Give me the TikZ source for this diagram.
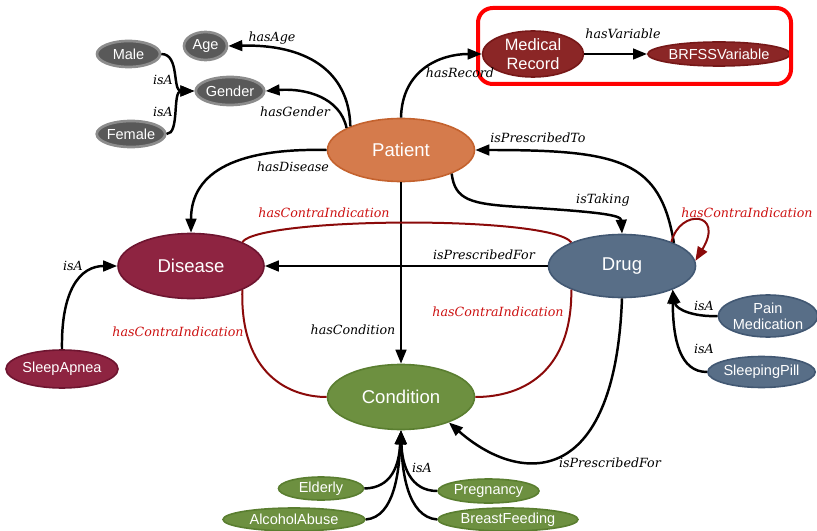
\documentclass[tikz,border=0pt]{standalone}
\usepackage{fontspec}
\setsansfont{Liberation Sans}
\newfontfamily\edgefont{DejaVu Serif}
\usetikzlibrary{shapes.geometric,arrows.meta}

% class colours
\definecolor{patfill}{HTML}{D57B4C}
\definecolor{patline}{HTML}{C4622E}
\definecolor{recfill}{HTML}{8B2626}
\definecolor{recline}{HTML}{761818}
\definecolor{disfill}{HTML}{8E2441}
\definecolor{disline}{HTML}{6E1530}
\definecolor{drugfill}{HTML}{586E87}
\definecolor{drugline}{HTML}{425873}
\definecolor{condfill}{HTML}{6D9040}
\definecolor{condline}{HTML}{5A7E30}
\definecolor{grayfill}{HTML}{595959}
\definecolor{grayline}{HTML}{8C8C8C}
\definecolor{contraline}{HTML}{8B0A0A}
\definecolor{contratext}{HTML}{CC1111}
\definecolor{framered}{HTML}{FF0000}

% one unit of the drawing grid
\newcommand\unitpx{0.75pt}

\tikzset{
  cls/.style={ellipse, draw, line width=1.2pt, inner sep=0pt, text=white,
    font=\sffamily\fontsize{13.9}{16}\selectfont},
  sub/.style={cls, font=\sffamily\fontsize{10.9}{12}\selectfont},
  graycls/.style={sub, fill=grayfill, draw=grayline, line width=2pt},
  patcls/.style={cls, fill=patfill, draw=patline},
  reccls/.style={cls, fill=recfill, draw=recline},
  discls/.style={cls, fill=disfill, draw=disline},
  drugcls/.style={cls, fill=drugfill, draw=drugline},
  condcls/.style={cls, fill=condfill, draw=condline},
  tip/.style={-{Triangle[length=10.5pt,width=8pt]}},
  rel/.style={line width=1.85pt, tip},
  contra/.style={line width=1.5pt, draw=contraline},
  lbl/.style={font=\edgefont\itshape\fontsize{9.5}{11}\selectfont, inner sep=0pt, text=black},
  rlbl/.style={lbl, text=contratext},
}

\begin{document}
\begin{tikzpicture}[x=0.75pt,y=-0.75pt]
\useasboundingbox (0,0) rectangle (817,531);

% ---------- classes ----------
\node[patcls, minimum width=147*\unitpx, minimum height=63*\unitpx] (pat) at (401,150) {Patient};
\node[discls, minimum width=146*\unitpx, minimum height=65*\unitpx] (dis) at (191,266) {Disease};
\node[drugcls, minimum width=147*\unitpx, minimum height=63*\unitpx] (drug) at (622,266) {Drug};
\node[condcls, minimum width=147*\unitpx, minimum height=65*\unitpx] (cond) at (401,397) {Condition};

\node[graycls, minimum width=43*\unitpx, minimum height=28*\unitpx] (age) at (205.5,46) {Age};
\node[graycls, minimum width=65*\unitpx, minimum height=28*\unitpx] (gen) at (230,91) {Gender};
\node[graycls, minimum width=63*\unitpx, minimum height=26*\unitpx] (male) at (128.5,54) {Male};
\node[graycls, minimum width=67*\unitpx, minimum height=26*\unitpx] (fem) at (131,134) {Female};

\node[reccls, minimum width=101*\unitpx, minimum height=46*\unitpx, align=center,
      font=\sffamily\fontsize{12.3}{14}\selectfont] (mr) at (533,54) {Medical\\Record};
\node[reccls, sub, minimum width=129*\unitpx, minimum height=24*\unitpx] (br) at (719,54) {BRFSSVariable};
\draw[framered, line width=3pt, rounded corners=11pt] (478,8) rectangle (791,84);

\node[discls, sub, minimum width=110*\unitpx, minimum height=38*\unitpx] (sa) at (62,369) {SleepApnea};
\node[drugcls, sub, minimum width=96*\unitpx, minimum height=42*\unitpx, align=center,
      font=\sffamily\fontsize{10.9}{12.2}\selectfont] (pm) at (768,316) {Pain\\Medication};
\node[drugcls, sub, minimum width=99*\unitpx, minimum height=31*\unitpx] (sp) at (761.5,372) {SleepingPill};

\node[condcls, sub, minimum width=85*\unitpx, minimum height=23*\unitpx] (eld) at (321,488.5) {Elderly};
\node[condcls, sub, minimum width=101*\unitpx, minimum height=24*\unitpx] (preg) at (488.5,491) {Pregnancy};
\node[condcls, sub, minimum width=142*\unitpx, minimum height=23*\unitpx] (alc) at (294,519.5) {AlcoholAbuse};
\node[condcls, sub, minimum width=140*\unitpx, minimum height=23*\unitpx] (bf) at (508,519.5) {BreastFeeding};

% ---------- patient properties ----------
\draw[rel] (pat.155) .. controls (349,70) and (305,44) .. (age.east);
\draw[rel] (pat.158) .. controls (340,97) and (305,88) .. (gen.east);
\draw[rel] (male.east) .. controls (180,54) and (172,91) .. (gen.west);
\draw[rel] (fem.east) .. controls (180,134) and (172,91) .. (gen.west);
\draw[rel] (pat.north) .. controls (402,70) and (440,54) .. (mr.west);
\draw[rel] (mr.east) -- (br.west);
\draw[rel] (pat.west) .. controls (240,148) and (191,170) .. (dis.north);
\draw[rel] (pat.south) -- (cond.north);
\draw[rel] (pat.-25) .. controls (455,200) and (470,204) .. (520,207)
                     .. controls (600,212) and (621,215) .. (drug.north);

% ---------- drug properties ----------
\draw[rel] (drug.24) .. controls (660,160) and (620,150) .. (pat.east);
\draw[rel] (drug.west) -- (dis.east);
\draw[rel] (drug.south) .. controls (615,490) and (520,485) .. (cond.-28);
\draw[contra, tip] (drug.26) .. controls (680,208) and (725,212) .. (drug.4);

% ---------- contra-indications ----------
\draw[contra] (dis.25) .. controls (260,217) and (550,215) .. (drug.155);
\draw[contra] (dis.-25) .. controls (240,375) and (290,397) .. (cond.west);
\draw[contra] (drug.205) .. controls (572,370) and (525,397) .. (cond.east);

% ---------- subclasses ----------
\draw[rel] (sa.north) .. controls (61,290) and (80,266) .. (dis.west);
\draw[rel] (pm.west) .. controls (695,317) and (676,310) .. (drug.-25);
\draw[rel] (sp.west) .. controls (680,372) and (673,340) .. (drug.-25);
\draw[rel] (eld.east) .. controls (392,488) and (399,465) .. (cond.south);
\draw[rel] (preg.west) .. controls (410,491) and (402,465) .. (cond.south);
\draw[rel] (alc.east) .. controls (395,517) and (399,470) .. (cond.south);
\draw[rel] (bf.west) .. controls (407,517) and (402,470) .. (cond.south);

% ---------- labels ----------
\node[lbl] (lage) at (272,38) {hasAge};
\node[lbl] (lgen) at (295,112) {hasGender};
\node[lbl] (lmale) at (163,80) {isA};
\node[lbl] (lfem) at (163,112) {isA};
\node[lbl] (lrec) at (460,73) {hasRecord};
\node[lbl] (lvar) at (623,34) {hasVariable};
\node[lbl] (lpto) at (538,138) {isPrescribedTo};
\node[lbl] (ldis) at (293,167) {hasDisease};
\node[lbl] (ltak) at (603,200) {isTaking};
\node[lbl] (lpfd) at (484,255) {isPrescribedFor};
\node[lbl] (lcon) at (353,330) {hasCondition};
\node[lbl] (lpfc) at (610,463) {isPrescribedFor};
\node[lbl] (lsa) at (73,266) {isA};
\node[lbl] (lpm) at (704,306) {isA};
\node[lbl] (lsp) at (704,349) {isA};
\node[lbl] (lcnd) at (422,468) {isA};
\node[rlbl] (lci1) at (324,213) {hasContraIndication};
\node[rlbl] (lci2) at (747,213) {hasContraIndication};
\node[rlbl] (lci3) at (178,332) {hasContraIndication};
\node[rlbl] (lci4) at (498,312) {hasContraIndication};
\end{tikzpicture}
\end{document}
